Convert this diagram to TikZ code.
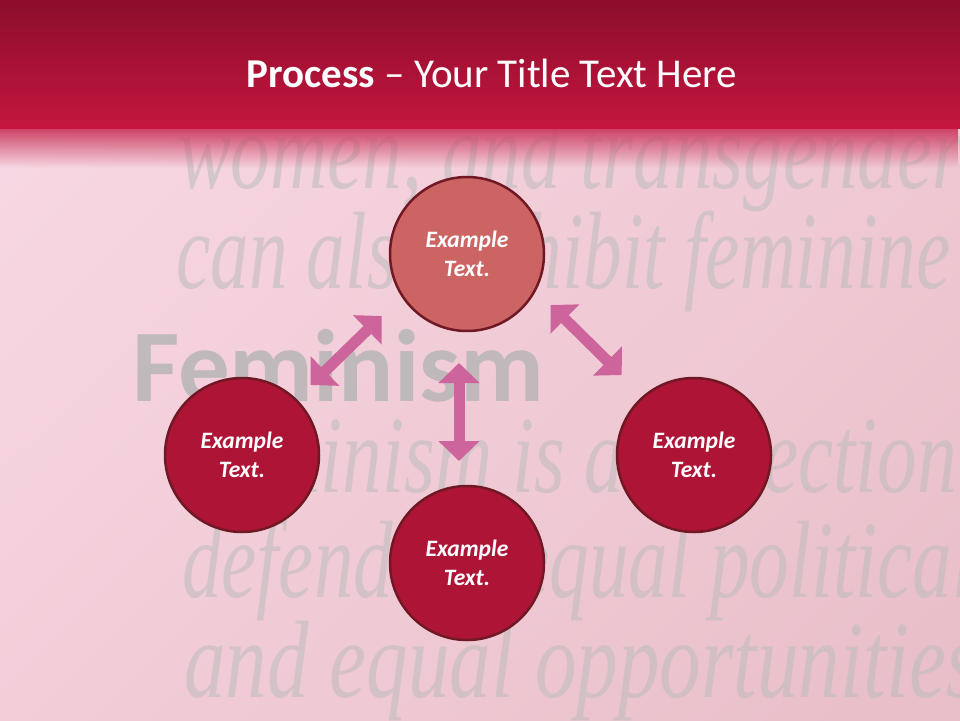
\documentclass[tikz,border=0pt]{standalone}
\usepackage{fontspec}
\setmainfont{Carlito}
\newfontfamily\bgserif{Liberation Serif}
\usetikzlibrary{arrows.meta,fadings,shadings}
\definecolor{hdtop}{RGB}{140,13,44}
\definecolor{hdbot}{RGB}{196,22,62}
\definecolor{bgUL}{RGB}{249,218,230}
\definecolor{bgUR}{RGB}{240,202,213}
\definecolor{bgLL}{RGB}{242,206,217}
\definecolor{bgLR}{RGB}{232,190,200}
\definecolor{arrowpink}{RGB}{205,100,155}
\definecolor{topfill}{RGB}{204,100,100}
\definecolor{mainfill}{RGB}{174,20,54}
\definecolor{ringcol}{RGB}{112,24,36}
\definecolor{fadecol}{RGB}{205,62,98}
\definecolor{bgtext}{RGB}{188,188,188}
\definecolor{bgbold}{RGB}{180,180,180}
\tikzfading[name=fadedown, top color=transparent!0, bottom color=transparent!100]
\begin{document}
\begin{tikzpicture}[x=1pt,y=-1pt,
  ball/.style={circle, draw=ringcol, line width=2.5pt, minimum size=154pt, inner sep=0pt,
    align=center, text=white, font=\fontsize{23.5}{28.5}\selectfont\bfseries\itshape},
  dblarrow/.style={draw=arrowpink, line width=11pt,
    {Triangle[width=40pt,length=20pt]}-{Triangle[width=40pt,length=20pt]}},
  serifline/.style={anchor=base west, inner sep=0pt, text=bgtext, text opacity=0.55,
    font=\bgserif\itshape\fontsize{110}{120}\selectfont, xscale=0.72},
  titletext/.style={anchor=base, inner sep=0pt, text=white, font=\fontsize{41}{48}\selectfont}]
\useasboundingbox (0,0) rectangle (960,720);
\clip (0,0) rectangle (960,720);
% background
\shade[upper left=bgUL, upper right=bgUR, lower left=bgLL, lower right=bgLR] (0,0) rectangle (960,720);
% blurred background words
\node[serifline] (w1) at (178,188) {women, and transgender};
\node[serifline, xscale=0.975] (w2) at (176,288) {can also exhibit feminine};
\node[anchor=base west, inner sep=0pt, text=bgbold, text opacity=0.8,
  font=\fontsize{103}{110}\selectfont\bfseries] (w3) at (132,401) {Feminism};
\node[serifline] (w4) at (180,492) {Feminism is a collection};
\node[serifline] (w5) at (182,597) {defending equal political};
\node[serifline, xscale=1.05] (w6) at (184,697) {and equal opportunities};
% header
\fill[fadecol, path fading=fadedown] (0,127) rectangle (960,168);
\shade[top color=hdtop, bottom color=hdbot] (0,0) rectangle (960,128);
\node[titletext] (title) at (492,87.5) {\textbf{Process} – Your Title Text Here};
% arrows
\coordinate (la) at (310.7,385);
\coordinate (lb) at (381.7,316);
\coordinate (ma) at (459,363);
\coordinate (mb) at (459,461);
\coordinate (ra) at (550.7,305);
\coordinate (rb) at (621.7,375);
\draw[dblarrow] (la) -- (lb);
\draw[dblarrow] (ma) -- (mb);
\draw[dblarrow] (ra) -- (rb);
% circles
\node[ball, fill=topfill] (top) at (467,254) {Example\\Text.};
\node[ball, fill=mainfill] (left) at (242,455) {Example\\Text.};
\node[ball, fill=mainfill] (right) at (694,455) {Example\\Text.};
\node[ball, fill=mainfill] (bottom) at (467,563) {Example\\Text.};
\end{tikzpicture}
\end{document}
